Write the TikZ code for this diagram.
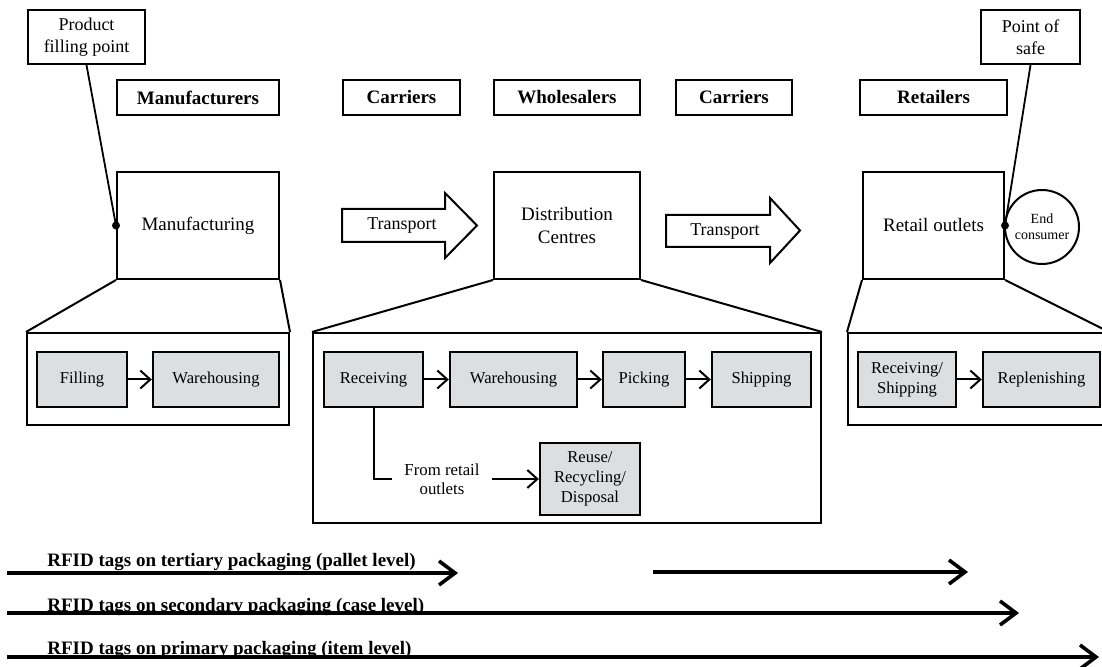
\documentclass[tikz,border=0pt]{standalone}
\usepackage{fontspec}
\setmainfont{Liberation Serif}
\usetikzlibrary{arrows.meta}
\definecolor{taskgray}{RGB}{221,222,224}

\begin{document}
\begin{tikzpicture}[x=0.5pt,y=-0.5pt,
    rolebox/.style={draw,line width=1pt,inner sep=0pt,minimum height=17.5pt,font=\fontsize{9.5}{11}\selectfont\bfseries},
    stagebox/.style={draw,line width=1pt,inner sep=0pt,minimum height=53.5pt,align=center,font=\fontsize{9.5}{11.5}\selectfont},
    callout/.style={draw,line width=1pt,inner sep=0pt,minimum height=27pt,align=center,font=\fontsize{9}{11}\selectfont},
    detailbox/.style={draw,line width=1pt,inner sep=0pt},
    taskbox/.style={draw,line width=1.2pt,fill=taskgray,inner sep=0pt,minimum height=27.5pt,align=center,font=\fontsize{8.3}{10}\selectfont},
    flow/.style={-{Straight Barb[length=5pt,width=9pt]},line width=1pt},
    tagline/.style={-{Straight Barb[length=8pt,width=12pt]},line width=1.8pt},
    taglabel/.style={anchor=base west,inner sep=0pt,font=\fontsize{9.5}{11}\selectfont\bfseries}]
    \useasboundingbox (0,0) rectangle (1102,667);
    \clip (0,0) rectangle (1102,667);

    % Roles
    \node[rolebox,minimum width=81pt] (manufacturers) at (198,97.5) {Manufacturers};
    \node[rolebox,minimum width=58.5pt] (carriersA) at (401.5,97.5) {Carriers};
    \node[rolebox,minimum width=73pt] (wholesalers) at (567,97.5) {Wholesalers};
    \node[rolebox,minimum width=58pt] (carriersB) at (734,97.5) {Carriers};
    \node[rolebox,minimum width=73.5pt] (retailers) at (933.5,97.5) {Retailers};

    % Stages
    \node[stagebox,minimum width=81pt] (mfg) at (198,225.5) {Manufacturing};
    \node[stagebox,minimum width=73pt] (dc) at (567,225.5) {Distribution\\Centres};
    \node[stagebox,minimum width=70.5pt] (retail) at (933.5,225.5) {Retail outlets};
    \node[draw,line width=1pt,circle,inner sep=0pt,minimum size=37pt,align=center,
          font=\fontsize{7}{8}\selectfont] (consumer) at (1042,227) {End\\consumer};

    % Transport arrows
    \draw[line width=1pt] (342,209) -- (445,209) -- (445,193) -- (477,225.5) -- (445,258)
        -- (445,242) -- (342,242) -- cycle;
    \node[font=\fontsize{9}{11}\selectfont] (transA) at (402,226) {Transport};
    \draw[line width=1pt] (666,215) -- (770,215) -- (770,198) -- (800,230.5) -- (770,263)
        -- (770,247) -- (666,247) -- cycle;
    \node[font=\fontsize{9}{11}\selectfont] (transB) at (725,232) {Transport};

    % Callouts
    \node[callout,minimum width=58.5pt] (filling point) at (86.5,37) {Product\\filling point};
    \node[callout,minimum width=49.5pt] (sale point) at (1030.5,37) {Point of\\safe};
    \draw[line width=0.9pt] (filling point.south) -- (mfg.west);
    \fill (mfg.west) circle (4);
    \draw[line width=0.9pt] (sale point.south) -- (retail.east);
    \fill (retail.east) circle (4);

    % Detail boxes
    \node[detailbox,minimum width=131pt,minimum height=46pt] (mfgdet) at (158,379) {};
    \node[detailbox,minimum width=254pt,minimum height=95pt] (dcdet) at (567,428) {};
    \node[detailbox,minimum width=130pt,minimum height=46pt] (retdet) at (978,379) {};
    \draw[line width=1pt] (mfg.south west) -- (mfgdet.north west);
    \draw[line width=1pt] (mfg.south east) -- (mfgdet.north east);
    \draw[line width=1pt] (dc.south west) -- (dcdet.north west);
    \draw[line width=1pt] (dc.south east) -- (dcdet.north east);
    \draw[line width=1pt] (retail.south west) -- (retdet.north west);
    \draw[line width=1pt] (retail.south east) -- (retdet.north east);

    % Manufacturer tasks
    \node[taskbox,minimum width=45pt] (filling) at (82,379.5) {Filling};
    \node[taskbox,minimum width=63pt] (mwarehouse) at (216,379.5) {Warehousing};
    \draw[flow] (filling) -- (mwarehouse);

    % Distribution centre tasks
    \node[taskbox,minimum width=49.5pt] (receiving) at (373.5,379.5) {Receiving};
    \node[taskbox,minimum width=63.5pt] (dwarehouse) at (513.5,379.5) {Warehousing};
    \node[taskbox,minimum width=41pt] (picking) at (644,379.5) {Picking};
    \node[taskbox,minimum width=49.5pt] (shipping) at (761.5,379.5) {Shipping};
    \draw[flow] (receiving) -- (dwarehouse);
    \draw[flow] (dwarehouse) -- (picking);
    \draw[flow] (picking) -- (shipping);
    \node[taskbox,minimum width=50pt,minimum height=36pt] (reuse) at (590,479) {Reuse/\\Recycling/\\Disposal};
    \node[align=center,inner sep=6pt,font=\fontsize{8.4}{9.5}\selectfont] (fromret) at (442,479) {From retail\\outlets};
    \draw[line width=1pt] (receiving.south) |- (fromret.west);
    \draw[flow] (fromret.east) -- (reuse.west);

    % Retailer tasks
    \node[taskbox,minimum width=49pt] (recship) at (907,379.5) {Receiving/\\Shipping};
    \node[taskbox,minimum width=58.5pt] (replenish) at (1041.5,379.5) {Replenishing};
    \draw[flow] (recship) -- (replenish);

    % RFID tag levels
    \coordinate (palletA) at (7,573);
    \coordinate (palletB) at (458,573);
    \coordinate (palletC) at (653,572);
    \coordinate (palletD) at (968,572);
    \coordinate (caseA) at (7,613);
    \coordinate (caseB) at (1019,613);
    \coordinate (itemA) at (7,657);
    \coordinate (itemB) at (1099,657);
    \draw[tagline] (palletA) -- (palletB);
    \draw[tagline] (palletC) -- (palletD);
    \draw[tagline] (caseA) -- (caseB);
    \draw[tagline] (itemA) -- (itemB);
    \node[taglabel] (pallet) at (47,567) {RFID tags on tertiary packaging (pallet level)};
    \node[taglabel] (case) at (47,611) {RFID tags on secondary packaging (case level)};
    \node[taglabel] (item) at (47,654) {RFID tags on primary packaging (item level)};
\end{tikzpicture}
\end{document}
